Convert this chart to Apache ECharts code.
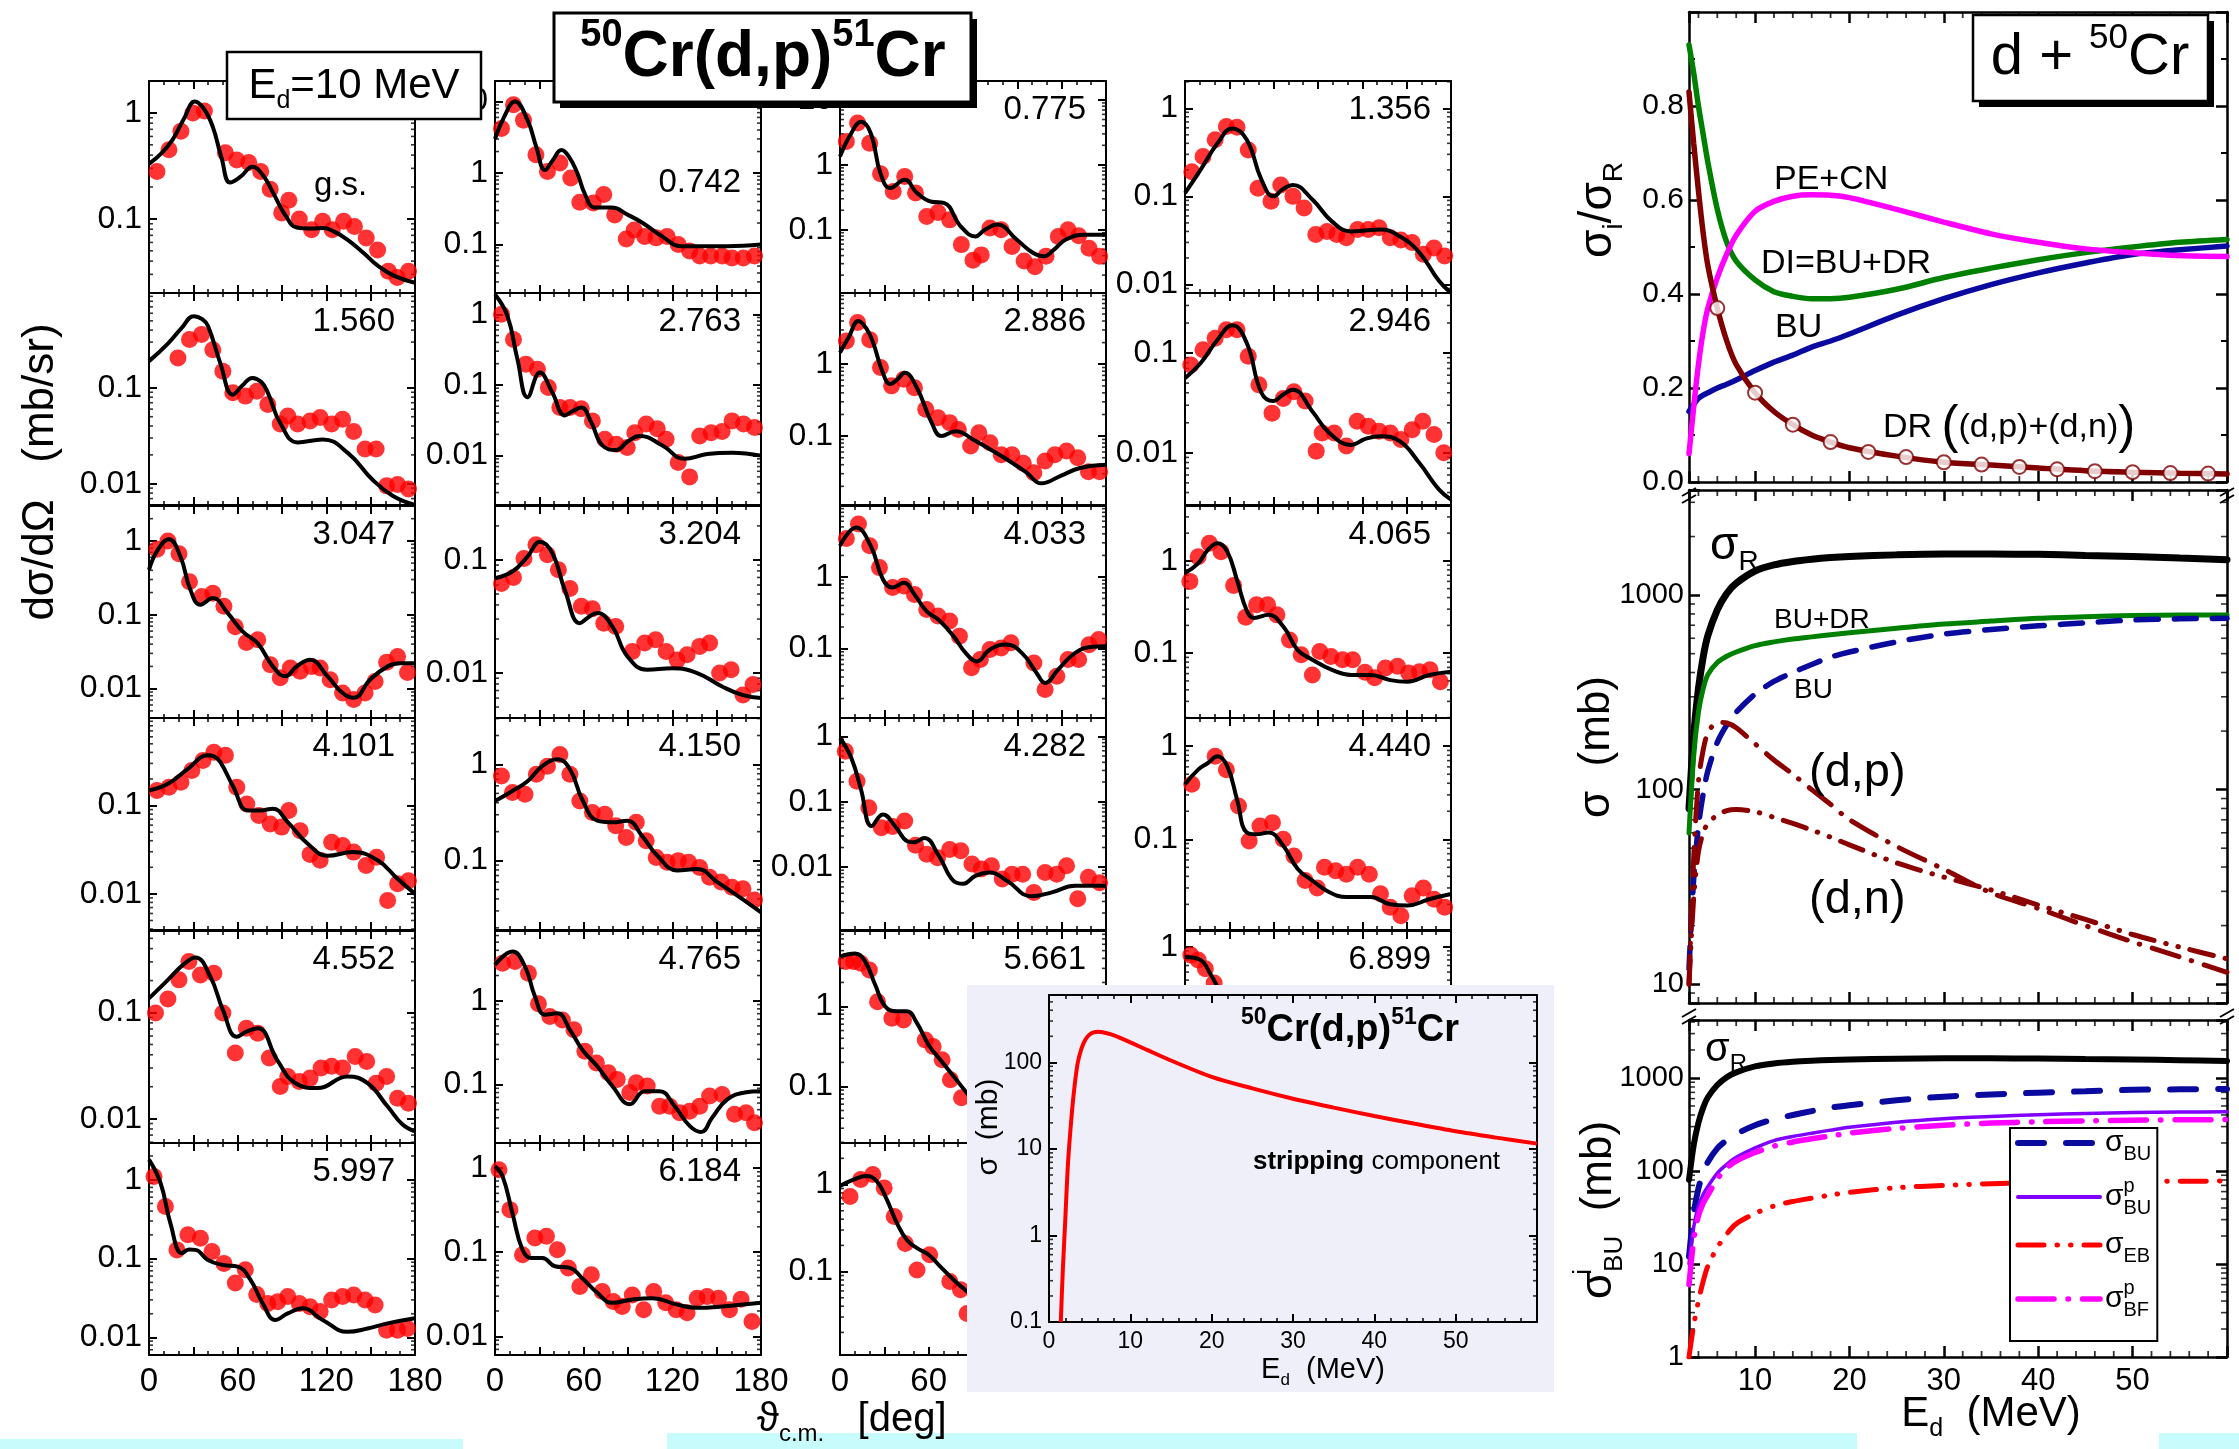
<!DOCTYPE html>
<html>
<head>
<meta charset="utf-8">
<title>50Cr(d,p)51Cr</title>
<script src="https://cdn.jsdelivr.net/npm/echarts@6.0.0/dist/echarts.min.js"></script>
<style>
html, body { margin: 0; padding: 0; background: #fff; }
#main { width: 2239px; height: 1449px; }
</style>
</head>
<body>
<div id="main"></div>
<script>
// angular distributions at Ed = 10 MeV, [theta_cm (deg), dsigma/dOmega (mb/sr)]
var pts_gs = [[5.4,0.28],[13.5,0.45],[21.6,0.67],[29.7,1.0],[37.5,1.04],[51.7,0.42],[59.4,0.36],[67.5,0.34],[75.6,0.28],[82,0.19],[89.8,0.114],[94.6,0.15],[101.7,0.10],[110,0.079],[117.5,0.095],[124,0.079],[131.7,0.095],[139,0.085],[147,0.066],[154.7,0.051],[162,0.032],[168,0.028],[175.6,0.032]];
var fit_gs = [[0,0.33],[8,0.41],[16,0.56],[24,0.9],[31,1.28],[37,1.1],[43,0.75],[49,0.38],[55,0.22],[62,0.25],[70,0.31],[77,0.26],[84,0.176],[92,0.11],[100,0.083],[110,0.081],[118,0.082],[126,0.075],[134,0.064],[145,0.048],[155,0.036],[166,0.029],[180,0.025]];
var pts_742 = [[4.4,4.2],[12.5,9.0],[19.3,5.5],[27.7,1.8],[35.5,1.05],[43.9,1.38],[51.3,0.85],[57.4,0.39],[66.5,0.38],[73.6,0.5],[81,0.26],[88.8,0.12],[94.2,0.16],[101.3,0.13],[109,0.124],[116.5,0.13],[124,0.1],[131.7,0.081],[138.5,0.069],[146,0.069],[153.7,0.069],[160.4,0.065],[168,0.065],[175.6,0.069]];
var fit_742 = [[0,3.0],[6,6],[13.5,10],[22,5.5],[28,2.3],[33.8,1.1],[39,1.5],[45,2.1],[50,1.7],[55.7,1.0],[61,0.5],[67.5,0.33],[79,0.33],[90,0.26],[100,0.2],[113,0.13],[126,0.095],[140,0.095],[157,0.095],[180,0.1]];
var pts_775 = [[4.3,2.3],[11.9,4.4],[20.1,2.15],[27.4,0.73],[36,0.39],[43.8,0.66],[51.1,0.37],[58.7,0.16],[66.3,0.185],[74.2,0.142],[82.1,0.059],[90,0.034],[95.6,0.041],[101.5,0.106],[109.1,0.1],[116.4,0.055],[124.6,0.033],[131.9,0.027],[139.4,0.039],[147.7,0.079],[154.3,0.1],[161.5,0.081],[168.5,0.052],[175.7,0.039]];
var fit_775 = [[0,1.34],[7.6,3.07],[14.2,4.6],[20.8,3.07],[27.4,0.74],[34,0.44],[43.8,0.59],[52,0.37],[62,0.27],[70.2,0.26],[81.8,0.112],[91.6,0.079],[98,0.1],[106.5,0.12],[119.7,0.07],[130,0.045],[137.8,0.039],[145,0.05],[152.6,0.07],[165.8,0.084],[180,0.084]];
var pts_1356 = [[4.6,0.19],[12.2,0.284],[20.4,0.44],[28,0.62],[35.2,0.61],[42.8,0.337],[49.4,0.124],[58.2,0.088],[64.8,0.135],[73.1,0.1],[80.6,0.074],[88.5,0.037],[96.1,0.04],[102.7,0.037],[109.2,0.034],[116.8,0.042],[124,0.042],[131.3,0.044],[138.9,0.034],[146.1,0.032],[153.7,0.03],[161.3,0.022],[168.5,0.026],[175.7,0.021]];
var fit_1356 = [[0,0.109],[10.5,0.2],[22,0.4],[32,0.59],[41.8,0.44],[51.7,0.155],[59.9,0.1],[66,0.12],[73,0.135],[86.2,0.092],[99.4,0.052],[112.5,0.04],[122,0.041],[132.3,0.042],[145.5,0.035],[158.6,0.023],[171.8,0.011],[180,0.008]];
var pts_1560 = [[19.6,0.205],[27.4,0.32],[35.5,0.36],[43.2,0.25],[50,0.149],[56.7,0.089],[65.2,0.082],[73,0.092],[80.4,0.067],[88.8,0.042],[93.9,0.051],[100.6,0.042],[109,0.045],[115.8,0.049],[123.6,0.042],[131,0.047],[138.5,0.035],[146.2,0.023],[153.7,0.023],[160.8,0.0095],[168.2,0.0098],[175.6,0.0088]];
var fit_1560 = [[0,0.19],[12.8,0.29],[22,0.42],[30.4,0.56],[36,0.52],[40,0.44],[48.3,0.18],[56.7,0.085],[63,0.105],[70,0.127],[76,0.115],[80.4,0.089],[88.8,0.043],[100.6,0.027],[117.5,0.029],[134.5,0.021],[151.3,0.011],[164.8,0.0075],[180,0.006]];
var pts_2763 = [[4.4,1.0],[12.5,0.44],[20.9,0.197],[28.7,0.167],[36.1,0.092],[43.9,0.048],[50.7,0.048],[58.4,0.046],[65.9,0.031],[74.3,0.017],[82.1,0.0145],[89.5,0.013],[94.6,0.021],[102.3,0.028],[109.8,0.024],[115.8,0.017],[124,0.008],[131.7,0.005],[138.5,0.019],[146.2,0.021],[153.7,0.022],[160.4,0.031],[168.2,0.028],[175.6,0.025]];
var fit_2763 = [[0,1.9],[8.4,0.95],[15.2,0.23],[22,0.067],[30.4,0.15],[38.8,0.078],[47.3,0.037],[52,0.042],[58.4,0.048],[65,0.03],[72.6,0.014],[82,0.012],[90,0.016],[98,0.019],[113,0.014],[128.3,0.009],[143.5,0.0105],[160.4,0.011],[180,0.01]];
var pts_2886 = [[4.3,2.1],[11.9,3.8],[20.1,2.2],[27.4,0.9],[34.9,0.5],[43.2,0.62],[50.4,0.47],[58,0.236],[66.3,0.18],[74.2,0.154],[80.1,0.124],[88.4,0.073],[94,0.111],[101.5,0.081],[109.1,0.055],[116.4,0.055],[124,0.042],[131.2,0.031],[138.8,0.045],[145.4,0.055],[153.3,0.062],[160.9,0.05],[168.1,0.032],[175.7,0.032]];
var fit_2886 = [[0,1.45],[6,2.4],[12.5,4.0],[18,3.1],[22.4,2.0],[29,0.76],[34,0.53],[39,0.62],[43.8,0.76],[52,0.47],[62,0.154],[68.6,0.1],[78.5,0.117],[90,0.09],[109.8,0.052],[126.3,0.031],[136.2,0.022],[149.3,0.028],[162.5,0.036],[180,0.04]];
var pts_2946 = [[3.9,0.076],[12.2,0.108],[20.4,0.141],[28,0.171],[35.2,0.171],[42.8,0.093],[50,0.048],[58.9,0.025],[66.5,0.035],[73.7,0.041],[81.3,0.033],[88.8,0.0104],[92.8,0.0158],[101,0.0158],[109.2,0.0117],[116.5,0.0207],[124,0.0185],[131.3,0.0165],[138.9,0.0158],[146.1,0.0136],[153.7,0.017],[160.9,0.0207],[168.5,0.0153],[175.1,0.01]];
var fit_2946 = [[0,0.056],[10.5,0.079],[22,0.136],[32,0.19],[41.8,0.126],[51.7,0.04],[59.9,0.033],[66,0.038],[73,0.043],[86.2,0.026],[97.7,0.0158],[112.5,0.012],[122,0.0138],[132.3,0.0147],[145.5,0.013],[158.6,0.0079],[171.8,0.0043],[180,0.0034]];
var pts_3047 = [[5.4,0.77],[12.8,1.0],[20.3,0.67],[27.4,0.28],[35.8,0.177],[43.2,0.196],[50.7,0.13],[58.4,0.069],[65.9,0.042],[73.6,0.046],[82.1,0.021],[88.8,0.014],[95.6,0.019],[102.3,0.0172],[110,0.02],[115.8,0.019],[122.6,0.0132],[131,0.0087],[138.5,0.0071],[146.2,0.0087],[153,0.0125],[160.8,0.0227],[168.2,0.0273],[174.9,0.0165]];
var fit_3047 = [[0,0.406],[6,0.76],[13.5,1.05],[21.3,0.61],[28,0.218],[34.8,0.137],[43.2,0.168],[53.3,0.105],[63.5,0.059],[73.6,0.041],[83.8,0.02],[92.2,0.0147],[100,0.02],[109,0.0246],[120.9,0.0146],[131,0.0087],[138.5,0.0075],[149.6,0.0132],[161.5,0.02],[170,0.022],[180,0.022]];
var pts_3204 = [[4.4,0.062],[12.5,0.07],[19.6,0.103],[27.7,0.136],[35.5,0.111],[42.9,0.082],[50.7,0.056],[58.4,0.039],[65.9,0.037],[73.6,0.0276],[81.7,0.0258],[92.9,0.0155],[101.3,0.0184],[108.7,0.0197],[115.8,0.0155],[123.3,0.013],[130,0.0145],[138.5,0.0172],[145.2,0.0184],[152,0.01],[159.8,0.0107],[167.8,0.0064],[174.6,0.0079]];
var fit_3204 = [[0,0.069],[11.8,0.079],[22,0.107],[30.4,0.145],[38.8,0.115],[47.3,0.054],[57.4,0.0276],[63,0.031],[69.2,0.034],[79.4,0.0258],[89.5,0.0141],[103,0.0107],[119.9,0.011],[136.8,0.01],[153.7,0.0076],[167.2,0.0064],[180,0.006]];
var pts_4033 = [[4.3,3.45],[12.5,5.5],[20.1,2.72],[26.7,1.35],[35.6,0.71],[43.2,0.75],[50.4,0.57],[58.7,0.35],[66.3,0.284],[74.2,0.242],[80.8,0.149],[89,0.054],[95,0.07],[101.5,0.097],[109.1,0.102],[115.7,0.12],[131.2,0.063],[138.8,0.0267],[146.7,0.041],[154.3,0.07],[161.5,0.07],[168.5,0.113],[175,0.134]];
var fit_4033 = [[0,2.72],[10.9,4.9],[20.8,2.72],[29,0.93],[35.6,0.71],[43.2,0.83],[50.4,0.57],[58.7,0.33],[66.9,0.25],[76.8,0.149],[85,0.087],[92.6,0.066],[101.5,0.097],[112.4,0.114],[123,0.087],[132.9,0.046],[138.8,0.033],[147.7,0.051],[159.2,0.087],[170.7,0.106],[180,0.108]];
var pts_4065 = [[3.3,0.6],[8.9,1.11],[16.5,1.55],[24.4,1.26],[32.9,0.54],[41.1,0.245],[48.4,0.334],[55.9,0.334],[62.2,0.26],[70.7,0.139],[78.6,0.096],[86.2,0.058],[91.2,0.104],[98.7,0.092],[106.6,0.085],[113.5,0.085],[121.8,0.062],[128.3,0.054],[135.6,0.069],[143.8,0.072],[151.4,0.061],[158.6,0.063],[165.8,0.066],[172.8,0.049]];
var fit_4065 = [[0,0.74],[8.9,0.94],[15.5,1.32],[22,1.55],[28.6,1.26],[35.2,0.62],[41.8,0.29],[46.7,0.24],[56.6,0.26],[66.5,0.194],[76.3,0.108],[86.2,0.085],[99.4,0.066],[112.5,0.058],[125.7,0.058],[138.9,0.051],[150.4,0.049],[165.2,0.058],[180,0.063]];
var pts_4101 = [[5.4,0.148],[13.5,0.161],[21.6,0.184],[29,0.249],[36.5,0.323],[43.9,0.4],[51.7,0.37],[59.4,0.161],[66.2,0.104],[74.3,0.077],[82,0.062],[89.8,0.057],[94.6,0.088],[102.3,0.052],[109,0.028],[115.8,0.024],[123.6,0.0385],[131,0.0353],[138.5,0.0297],[146.9,0.021],[154,0.026],[161.5,0.0084],[168.2,0.013],[175.6,0.0141]];
var fit_4101 = [[0,0.148],[12.8,0.176],[26.3,0.26],[39.8,0.37],[44,0.36],[48.3,0.31],[56.7,0.168],[66.9,0.088],[75.3,0.088],[83.8,0.092],[93.9,0.065],[107.4,0.037],[120.9,0.027],[137.8,0.0297],[154.7,0.024],[168.2,0.0148],[180,0.01]];
var pts_4150 = [[4.4,0.757],[11.8,0.51],[20.3,0.49],[28,0.79],[35.5,0.96],[43.9,1.27],[50.7,0.79],[57.4,0.417],[65.9,0.316],[74.3,0.304],[81.7,0.23],[88.8,0.174],[95.6,0.25],[102.3,0.161],[109.1,0.108],[116.5,0.096],[124,0.1],[131,0.096],[138.5,0.085],[145.2,0.067],[153,0.06],[160.4,0.053],[167.8,0.051],[175.6,0.039]];
var fit_4150 = [[0,0.417],[11.8,0.53],[22,0.67],[32,0.96],[42.2,1.13],[50.7,0.89],[59.1,0.43],[69.2,0.26],[79.4,0.25],[89.5,0.26],[99.6,0.18],[109.8,0.113],[123.3,0.079],[136.8,0.082],[150.3,0.06],[167.2,0.04],[180,0.029]];
var pts_4282 = [[3.6,0.59],[11.5,0.206],[19.5,0.081],[28,0.04],[35.6,0.042],[43.8,0.051],[51.1,0.0216],[58.7,0.0158],[66,0.014],[74.2,0.0187],[81.8,0.0178],[89.3,0.0112],[95.6,0.0094],[102.5,0.0105],[109.8,0.0066],[116.4,0.0078],[123.6,0.0078],[131.2,0.0041],[138.8,0.0083],[146.7,0.0078],[153.3,0.0105],[160.9,0.0033],[168.1,0.007],[175.7,0.0058]];
var fit_4282 = [[0,0.94],[7.6,0.47],[14.2,0.154],[21.4,0.0425],[29,0.064],[37.3,0.0425],[45.5,0.025],[50,0.024],[57,0.028],[66.9,0.0149],[76.8,0.0062],[83.4,0.0056],[91.6,0.0074],[101.5,0.0083],[113,0.0062],[129.6,0.0036],[142.8,0.0041],[159.2,0.0052],[180,0.0052]];
var pts_4440 = [[4.6,0.39],[20.4,0.78],[28,0.56],[36.2,0.228],[43.4,0.096],[50.7,0.139],[59.2,0.151],[66.5,0.1],[73.7,0.066],[81.3,0.036],[89.5,0.03],[94.4,0.05],[102,0.046],[109.2,0.042],[116.8,0.05],[124.7,0.042],[132.3,0.026],[138.9,0.0186],[146.1,0.0151],[153.7,0.0248],[161.3,0.03],[168.5,0.0227],[175.7,0.0186]];
var fit_4440 = [[0,0.39],[8.9,0.56],[15.5,0.66],[22,0.78],[28.6,0.61],[35.2,0.268],[41.8,0.118],[48.4,0.113],[56.6,0.118],[66.5,0.085],[76.3,0.048],[86.2,0.036],[97.7,0.027],[109.2,0.024],[125.7,0.024],[138.9,0.02],[150.4,0.0194],[165.2,0.0227],[180,0.0258]];
var pts_4552 = [[4.4,0.099],[12.8,0.134],[20.3,0.203],[27,0.302],[34.8,0.226],[43.9,0.234],[50,0.099],[58.4,0.0415],[65.9,0.0712],[73.6,0.0639],[81.4,0.0372],[88.8,0.0201],[93.9,0.025],[101.7,0.0224],[109,0.0241],[116.5,0.03],[123.6,0.0311],[131,0.03],[139.5,0.0386],[147.3,0.0346],[153.7,0.0216],[160.8,0.025],[168.2,0.0156],[175.6,0.014]];
var fit_4552 = [[0,0.136],[12.8,0.203],[23,0.281],[31.4,0.33],[41.5,0.218],[50,0.106],[59.4,0.059],[66,0.066],[73.6,0.071],[87.1,0.035],[98.9,0.0217],[114.1,0.0194],[134.4,0.025],[147.9,0.0216],[161.5,0.013],[171.6,0.0088],[180,0.0076]];
var pts_4765 = [[5.1,2.8],[13.5,2.94],[22.6,2.13],[29.4,0.92],[37.1,0.65],[45.6,0.59],[53.4,0.45],[60.8,0.25],[68.6,0.181],[76.7,0.138],[82.7,0.115],[91.2,0.08],[95.6,0.105],[103,0.096],[111.4,0.055],[118.2,0.055],[125,0.046],[131.7,0.048],[138.5,0.055],[145.2,0.073],[153.7,0.076],[162.1,0.044],[169.9,0.046],[175.6,0.035]];
var fit_4765 = [[0,2.68],[11.8,3.86],[20.3,2.56],[27,1.13],[33.8,0.68],[42.2,0.71],[50.7,0.45],[59.1,0.26],[69.2,0.165],[79.4,0.096],[91.2,0.058],[101.3,0.083],[111.4,0.083],[121.6,0.055],[131.7,0.032],[139.5,0.027],[146.9,0.04],[157,0.066],[168.9,0.08],[180,0.083]];
var pts_5661 = [[4.1,3.65],[9.1,3.65],[14,3.48],[19.9,2.87],[25.4,1.15],[35.1,0.715],[43,0.68],[57.7,0.38],[63,0.316],[69.1,0.215],[74.7,0.121],[82.2,0.072]];
var fit_5661 = [[0,4.2],[10.2,4.6],[17,3.65],[23.8,1.87],[30.6,1.0],[38.5,0.87],[45.3,0.87],[52.1,0.62],[60,0.33],[67.9,0.215],[77,0.133],[86,0.082],[92,0.06]];
var pts_6899 = [[3.9,0.8],[8.9,0.7],[13.8,0.55],[19.7,0.37]];
var fit_6899 = [[0,0.76],[10.5,0.7],[17,0.48],[22,0.33],[28,0.2]];
var pts_5997 = [[3.4,1.1],[11.1,0.458],[18.9,0.129],[26.3,0.2],[34.8,0.181],[42.6,0.123],[50.7,0.087],[58.4,0.049],[65.2,0.072],[72.9,0.035],[80.4,0.027],[87.1,0.0284],[93.9,0.033],[101.7,0.027],[109,0.0246],[115.8,0.0213],[123.6,0.0298],[131,0.033],[138.5,0.0346],[146.2,0.0298],[153,0.0258],[160.8,0.0124],[168.2,0.0124],[174.9,0.013]];
var fit_5997 = [[0,1.8],[7.8,0.91],[14.5,0.28],[22.3,0.117],[27,0.13],[31.4,0.129],[39.8,0.096],[50,0.083],[60.1,0.079],[68.6,0.054],[77,0.027],[85.5,0.0167],[93.9,0.0202],[104,0.0234],[117.5,0.0167],[134.4,0.0118],[147.9,0.013],[161.5,0.0151],[180,0.0175]];
var pts_6184 = [[2.7,0.955],[10.1,0.32],[18.6,0.093],[27,0.147],[34.8,0.154],[42.2,0.107],[49.6,0.065],[57.4,0.039],[65.2,0.054],[72.6,0.034],[80,0.026],[86.1,0.0226],[92.9,0.031],[100.6,0.0207],[107.4,0.034],[115.5,0.025],[122.6,0.0207],[130,0.019],[136.8,0.0284],[143.5,0.0298],[151.3,0.0284],[158.7,0.0207],[166.5,0.0275],[173.9,0.015]];
var fit_6184 = [[0,1.05],[5.1,0.8],[11.8,0.29],[18.6,0.107],[24.7,0.085],[32.1,0.085],[40.5,0.068],[50.7,0.065],[59.1,0.049],[69.2,0.033],[79.4,0.025],[92.9,0.0274],[106.4,0.0284],[123.3,0.0238],[136.8,0.0218],[153.7,0.0226],[180,0.025]];
var pts_hidden = [[6.8,0.73],[14,1.14],[22.2,1.3],[29.9,0.915],[36.7,0.43],[44.2,0.21],[52.1,0.104],[60.7,0.156],[74.3,0.077],[81.5,0.062],[86,0.033]];
var fit_hidden = [[0,0.96],[9.1,1.14],[18.1,1.25],[24.9,1.09],[31.7,0.67],[38.5,0.36],[45.3,0.23],[52.1,0.186],[60,0.156],[67.9,0.114],[77,0.08],[86,0.059],[92,0.05]];

// panels in reading order (4 per row)
var levels = ['g.s.','0.742','0.775','1.356','1.560','2.763','2.886','2.946','3.047','3.204','4.033','4.065','4.101','4.150','4.282','4.440','4.552','4.765','5.661','6.899','5.997','6.184',''];
var panelPts = [pts_gs,pts_742,pts_775,pts_1356,pts_1560,pts_2763,pts_2886,pts_2946,pts_3047,pts_3204,pts_4033,pts_4065,pts_4101,pts_4150,pts_4282,pts_4440,pts_4552,pts_4765,pts_5661,pts_6899,pts_5997,pts_6184,pts_hidden];
var panelFit = [fit_gs,fit_742,fit_775,fit_1356,fit_1560,fit_2763,fit_2886,fit_2946,fit_3047,fit_3204,fit_4033,fit_4065,fit_4101,fit_4150,fit_4282,fit_4440,fit_4552,fit_4765,fit_5661,fit_6899,fit_5997,fit_6184,fit_hidden];
var yLow  = [0.02,0.021,0.0106,0.008, 0.006,0.002,0.011,0.003, 0.004,0.004,0.0107,0.0198, 0.0039,0.019,0.0011,0.0106, 0.0059,0.02,0.0196,0.0044, 0.006,0.006,0.011];
var yHigh = [2.0,19.4,19.6,2.04, 0.976,2.0,9.8,0.4, 2.97,0.3,9.8,3.94, 0.98,3.04,1.9,2.01, 0.586,6.8,8.8,1.56, 2.92,1.98,3.0];

// energy dependence d + 50Cr
var eGrid   = [3,3.5,4,4.5,5,6,7,8,10,12,14,16,18,20,25,30,35,40,45,50,55,60];
var ratioDI = [0.93,0.87,0.80,0.74,0.68,0.58,0.51,0.47,0.43,0.405,0.395,0.39,0.39,0.393,0.41,0.435,0.455,0.473,0.488,0.50,0.51,0.516];
var ratioPE = [0.06,0.16,0.25,0.32,0.37,0.435,0.485,0.525,0.576,0.597,0.608,0.611,0.61,0.605,0.58,0.553,0.528,0.51,0.496,0.488,0.482,0.48];
var ratioBU = [0.15,0.165,0.178,0.185,0.19,0.20,0.208,0.217,0.237,0.255,0.27,0.287,0.30,0.315,0.355,0.39,0.42,0.445,0.466,0.484,0.494,0.502];
var ratioDR = [0.83,0.72,0.62,0.53,0.46,0.37,0.30,0.25,0.19,0.15,0.122,0.10,0.085,0.073,0.055,0.042,0.036,0.030,0.024,0.021,0.0188,0.017];
var drMarkE = [6,10,14,18,22,26,30,34,38,42,46,50,54,58];
var drMarkV = [0.37,0.19,0.122,0.085,0.064,0.053,0.042,0.037,0.032,0.027,0.023,0.021,0.019,0.018];
var sigR   = [80,190,330,480,620,840,1020,1150,1330,1430,1490,1530,1560,1580,1610,1625,1625,1620,1600,1580,1550,1520];
var sigDI  = [60,150,250,330,390,450,485,510,550,575,595,610,625,640,675,710,735,760,775,785,790,790];
var sigBU  = [12,35,65,95,125,175,215,250,310,360,400,440,480,510,575,630,665,695,720,745,755,760];
var sigDP  = [10,45,110,160,195,222,220,208,172,142,120,100,84,70,51,39,29.5,24.5,20,16.5,13.8,11.5];
var sigDN  = [10,28,48,60,67,74,78,79,77,72,67,62,57,52,42,35.5,30.5,25.5,21.5,18,15.5,13.5];
var sigBUp = [10,25,42,56,68,95,118,140,177,212,235,255,275,295,335,365,385,402,415,425,430,432];
var sigEB  = [1.0,2.2,4,6.5,9.5,15,21,27,35,42,47,51,55,59,66,70,73,75,76,77,77.5,78];
var sigBFp = [6,18,33,45,55,82,108,128,158,185,205,222,238,255,287,310,327,338,346,352,355,357];
// inset: stripping component of 50Cr(d,p)51Cr
var eStrip = [1.45,1.7,2,2.3,2.6,3,3.5,4,4.5,5,5.5,6,7,8,10,12,15,20,25,30,35,40,45,50,55,60];
var sStrip = [0.1,0.4,1.5,6,15,40,95,145,185,210,222,225,218,205,170,140,105,68,50,38,30,24,19.5,16,13.5,11.5];

var FONT = "'Liberation Sans', Arial, Helvetica, 'DejaVu Sans', sans-serif";
var chart = echarts.init(document.getElementById('main'));
var grids = [], xAxes = [], yAxes = [], series = [], graphics = [];

function pairs(xs, ys) { return xs.map(function (x, i) { return [x, ys[i]]; }); }
function decadeLabel(v) {
    var l = Math.log(v) / Math.LN10, p = Math.round(l);
    if (Math.abs(l - p) > 1e-6) return '';
    return p >= 0 ? String(Math.round(Math.pow(10, p))) : Math.pow(10, p).toFixed(-p);
}
function logMinors(lo, hi) {
    var out = [];
    for (var k = -4; k <= 4; k++) for (var m = 2; m <= 9; m++) {
        var v = m * Math.pow(10, k);
        if (v > lo * 1.0001 && v < hi * 0.9999) out.push(v);
    }
    return out;
}
function addGrid(l, t, w, h) {
    grids.push({ left: l, top: t, width: w, height: h, show: false, containLabel: false, outerBoundsMode: 'none' });
    return grids.length - 1;
}
function frameAxis(gi, type, pos, z, lw, tl) {
    return {
        gridIndex: gi, type: type, position: pos, z: z,
        axisLine: { show: true, onZero: false, lineStyle: { color: '#000', width: lw } },
        axisTick: { show: true, inside: true, length: tl, lineStyle: { color: '#000', width: lw } },
        minorTick: { show: false },
        axisLabel: { show: false },
        splitLine: { show: false },
        minorSplitLine: { show: false }
    };
}
function labelStyle(size, margin, fmt) {
    return { show: true, color: '#000', fontFamily: FONT, fontSize: size, margin: margin, formatter: fmt };
}
function pushX(a) { xAxes.push(a); return xAxes.length - 1; }
function pushY(a) { yAxes.push(a); return yAxes.length - 1; }
// minor tick marks of log axes, placed through the axis scales
function yMinorTicks(xi, yi, xl, xr, lo, hi, len, z) {
    var data = [];
    logMinors(lo, hi).forEach(function (v) {
        data.push({ value: [xl, v], symbolOffset: [len / 2, 0] });
        data.push({ value: [xr, v], symbolOffset: [-len / 2, 0] });
    });
    return { type: 'scatter', xAxisIndex: xi, yAxisIndex: yi, data: data, symbol: 'rect', symbolSize: [len, 1.6],
        itemStyle: { color: '#000' }, silent: true, clip: false, z: z };
}
function xMinorTicks(xi, yi, vals, yb, yt, len, z) {
    var data = [];
    vals.forEach(function (v) {
        data.push({ value: [v, yb], symbolOffset: [0, -len / 2] });
        data.push({ value: [v, yt], symbolOffset: [0, len / 2] });
    });
    return { type: 'scatter', xAxisIndex: xi, yAxisIndex: yi, data: data, symbol: 'rect', symbolSize: [1.8, len],
        itemStyle: { color: '#000' }, silent: true, clip: false, z: z };
}
function richSet(size, bold) {
    var lh = Math.round(size * 1.3), s = Math.round(size * 0.6), w = bold ? 'bold' : 'normal';
    function st(fs, va, extra) {
        var o = { fontSize: fs, fontFamily: FONT, fontWeight: w, fill: '#000', color: '#000', lineHeight: lh, verticalAlign: va };
        for (var k in extra) o[k] = extra[k];
        return o;
    }
    return { n: st(size, 'middle'), big: st(Math.round(size * 1.5), 'middle'), sub: st(s, 'bottom'),
        sup: st(s, 'top'), sup0: st(s, 'top', { width: 0 }),
        b: { fontSize: size, fontFamily: FONT, fontWeight: 'bold', fill: '#000', lineHeight: lh, verticalAlign: 'middle' } };
}
function txt(x, y, text, size, opt) {
    opt = opt || {};
    var al = opt.align || 'left';
    return { type: 'text', x: x, y: y, z: opt.z || 10, rotation: opt.rot || 0, silent: true,
        style: { text: text, fill: '#000', fontFamily: FONT, fontSize: size, fontWeight: opt.bold ? 'bold' : 'normal',
            align: al, textAlign: al, verticalAlign: 'middle', textVerticalAlign: 'middle', rich: richSet(size, opt.bold) } };
}

// ---------------- small angular-distribution panels ----------------
var COLX = [149, 495, 840, 1185], ROWY = [81, 293, 506, 718, 931, 1143], PW = 266, PH = 212;
panelPts.forEach(function (pts, i) {
    var c = i % 4, r = Math.floor(i / 4);
    var gi = addGrid(COLX[c], ROWY[r], PW, PH);
    var xb = frameAxis(gi, 'value', 'bottom', 1, 2, 8);
    xb.min = 0; xb.max = 180; xb.interval = 30;
    xb.minorTick = { show: true, splitNumber: 3, length: 4, lineStyle: { color: '#000', width: 1.5 } };
    if (r === 5) xb.axisLabel = labelStyle(33, 10, function (v) { return v % 60 === 0 ? String(v) : ''; });
    var xt = frameAxis(gi, 'value', 'top', 1, 2, 8);
    xt.min = 0; xt.max = 180; xt.interval = 30;
    xt.minorTick = { show: true, splitNumber: 3, length: 4, lineStyle: { color: '#000', width: 1.5 } };
    var yl = frameAxis(gi, 'log', 'left', 1, 2, 8);
    yl.logBase = 10; yl.min = yLow[i]; yl.max = yHigh[i];
    yl.axisLabel = labelStyle(32, 7, decadeLabel);
    var yr = frameAxis(gi, 'log', 'right', 1, 2, 8);
    yr.logBase = 10; yr.min = yLow[i]; yr.max = yHigh[i];
    var xi = pushX(xb); pushX(xt);
    var yi = pushY(yl); pushY(yr);
    series.push(yMinorTicks(xi, yi, 0, 180, yLow[i], yHigh[i], 4, 1));
    series.push({ type: 'scatter', xAxisIndex: xi, yAxisIndex: yi, data: pts, symbol: 'circle', symbolSize: 17,
        itemStyle: { color: '#ff0000' }, silent: true, z: 2 });
    series.push({ type: 'line', xAxisIndex: xi, yAxisIndex: yi, data: panelFit[i], smooth: 0.45, symbol: 'none',
        showSymbol: false, lineStyle: { color: '#000', width: 4 }, silent: true, z: 3 });
    if (levels[i]) {
        var right = COLX[c] + PW - 20, ty = ROWY[r] + 29;
        if (levels[i] === 'g.s.') graphics.push(txt(314, 186, levels[i], 33));
        else if (levels[i] === '0.742') graphics.push(txt(741, 183, levels[i], 33, { align: 'right' }));
        else graphics.push(txt(right, ty, levels[i], 33, { align: 'right' }));
    }
});

// ---------------- right-hand energy panels ----------------
var RL = 1689, RW = 538;
var eMinor = [4,6,8,12,14,16,18,22,24,26,28,32,34,36,38,42,44,46,48,52,54,56,58];
function energyAxes(gi, labels) {
    var xb = frameAxis(gi, 'value', 'bottom', 1, 2.5, 11);
    xb.min = 3; xb.max = 60;
    if (labels) xb.axisLabel = labelStyle(31, 9, function (v) { return (v % 10 === 0 && v < 60) ? String(v) : ''; });
    var xt = frameAxis(gi, 'value', 'top', 1, 2.5, 11);
    xt.min = 3; xt.max = 60;
    var xi = pushX(xb); pushX(xt);
    return xi;
}
function lineS(xi, yi, xs, ys, color, width, type, name, z) {
    return { type: 'line', name: name || '', xAxisIndex: xi, yAxisIndex: yi, data: pairs(xs, ys), smooth: 0.3,
        symbol: 'none', showSymbol: false, silent: true, z: z || 3,
        lineStyle: { color: color, width: width, type: type || 'solid', cap: 'round' } };
}

// top: ratios sigma_i / sigma_R
var gT = addGrid(RL, 12, RW, 470);
var xT = energyAxes(gT, false);
var yTl = frameAxis(gT, 'value', 'left', 1, 2.5, 11);
yTl.min = 0; yTl.max = 1; yTl.interval = 0.2;
yTl.minorTick = { show: true, splitNumber: 2, length: 6, lineStyle: { color: '#000', width: 2 } };
yTl.axisLabel = labelStyle(30, 5, function (v) { return v > 0.9 ? '' : v.toFixed(1); });
var yTr = frameAxis(gT, 'value', 'right', 1, 2.5, 11);
yTr.min = 0; yTr.max = 1; yTr.interval = 0.2;
yTr.minorTick = { show: true, splitNumber: 2, length: 6, lineStyle: { color: '#000', width: 2 } };
var yT = pushY(yTl); pushY(yTr);
series.push(xMinorTicks(xT, yT, eMinor, 0, 1, 6, 1));
series.push(lineS(xT, yT, eGrid, ratioBU, '#0a0a9e', 5.5));
series.push(lineS(xT, yT, eGrid, ratioDI, '#008000', 5.5));
series.push(lineS(xT, yT, eGrid, ratioPE, '#ff00ff', 5.5));
series.push(lineS(xT, yT, eGrid, ratioDR, '#800000', 5.5));
series.push({ type: 'scatter', xAxisIndex: xT, yAxisIndex: yT, data: pairs(drMarkE, drMarkV), symbol: 'circle', symbolSize: 14,
    itemStyle: { color: '#fff', borderColor: '#800000', borderWidth: 2 }, silent: true, z: 4 });

// middle: cross sections (mb)
var gM = addGrid(RL, 490, RW, 513);
var xM = energyAxes(gM, false);
var yMl = frameAxis(gM, 'log', 'left', 1, 2.5, 11);
yMl.logBase = 10; yMl.min = 8; yMl.max = 3470;
yMl.axisLabel = labelStyle(29, 5, decadeLabel);
var yMr = frameAxis(gM, 'log', 'right', 1, 2.5, 11);
yMr.logBase = 10; yMr.min = 8; yMr.max = 3470;
var yM = pushY(yMl); pushY(yMr);
series.push(yMinorTicks(xM, yM, 3, 60, 8, 3470, 6, 1));
series.push(xMinorTicks(xM, yM, eMinor, 8, 3470, 6, 1));
series.push(lineS(xM, yM, eGrid, sigR, '#000', 7));
series.push(lineS(xM, yM, eGrid, sigDI, '#008000', 5));
series.push(lineS(xM, yM, eGrid, sigBU, '#0a0a9e', 5.5, [22, 16]));
series.push(lineS(xM, yM, eGrid, sigDP, '#8b0000', 5, [28, 13, 0.5, 13]));
series.push(lineS(xM, yM, eGrid, sigDN, '#8b0000', 5, [24, 12, 0.5, 12, 0.5, 12]));

// bottom: breakup components (mb)
var gB = addGrid(RL, 1020, RW, 337);
var xB = energyAxes(gB, true);
var yBl = frameAxis(gB, 'log', 'left', 1, 2.5, 11);
yBl.logBase = 10; yBl.min = 1; yBl.max = 4200;
yBl.axisLabel = labelStyle(29, 5, decadeLabel);
var yBr = frameAxis(gB, 'log', 'right', 1, 2.5, 11);
yBr.logBase = 10; yBr.min = 1; yBr.max = 4200;
var yB = pushY(yBl); pushY(yBr);
series.push(yMinorTicks(xB, yB, 3, 60, 1, 4200, 6, 1));
series.push(xMinorTicks(xB, yB, eMinor, 1, 4200, 6, 1));
series.push(lineS(xB, yB, eGrid, sigR, '#000', 6));
series.push(lineS(xB, yB, eGrid, sigBU, '#0a0a9e', 6, [26, 22], 'sBU'));
series.push(lineS(xB, yB, eGrid, sigBUp, '#8000ff', 3.5, 'solid', 'sBUp'));
series.push(lineS(xB, yB, eGrid, sigEB, '#ff0000', 5, [26, 13, 0.5, 13, 0.5, 13], 'sEB'));
series.push(lineS(xB, yB, eGrid, sigBFp, '#ff00ff', 5.5, [36, 14, 0.5, 14], 'sBFp'));

// ---------------- inset ----------------
var gI = addGrid(1049, 995, 488, 327);
var xIb = frameAxis(gI, 'value', 'bottom', 110, 2, 8);
xIb.min = 0; xIb.max = 60; xIb.interval = 10;
xIb.minorTick = { show: true, splitNumber: 5, length: 4, lineStyle: { color: '#000', width: 1.5 } };
xIb.axisLabel = labelStyle(23, 8, function (v) { return v < 60 ? String(v) : ''; });
var xIt = frameAxis(gI, 'value', 'top', 110, 2, 8);
xIt.min = 0; xIt.max = 60; xIt.interval = 10;
xIt.minorTick = { show: true, splitNumber: 5, length: 4, lineStyle: { color: '#000', width: 1.5 } };
var yIl = frameAxis(gI, 'log', 'left', 110, 2, 8);
yIl.logBase = 10; yIl.min = 0.1; yIl.max = 600;
yIl.axisLabel = labelStyle(23, 7, decadeLabel);
var yIr = frameAxis(gI, 'log', 'right', 110, 2, 8);
yIr.logBase = 10; yIr.min = 0.1; yIr.max = 600;
var xI = pushX(xIb); pushX(xIt);
var yI = pushY(yIl); pushY(yIr);
series.push(yMinorTicks(xI, yI, 0, 60, 0.1, 600, 4, 110));
series.push({ type: 'line', xAxisIndex: xI, yAxisIndex: yI, data: pairs(eStrip, sStrip), smooth: 0.3, symbol: 'none',
    showSymbol: false, silent: true, z: 111, lineStyle: { color: '#ff0000', width: 4 } });

// ---------------- decorations and texts ----------------
var CYAN = '#c8fbfb';
graphics.push(
    { type: 'rect', z: 100, silent: true, shape: { x: 0, y: 1439, width: 463, height: 10 }, style: { fill: CYAN } },
    { type: 'rect', z: 100, silent: true, shape: { x: 667, y: 1433, width: 1190, height: 16 }, style: { fill: CYAN } },
    { type: 'rect', z: 100, silent: true, shape: { x: 2159, y: 1433, width: 80, height: 16 }, style: { fill: CYAN } },
    // inset background
    { type: 'rect', z: 100, silent: true, shape: { x: 967, y: 985, width: 587, height: 407 }, style: { fill: '#efeff9' } },
    // Ed box
    { type: 'rect', z: 100, silent: true, shape: { x: 227, y: 52, width: 254, height: 67 }, style: { fill: '#fff', stroke: '#000', lineWidth: 2.5 } },
    // title box with shadow
    { type: 'rect', z: 100, silent: true, shape: { x: 560, y: 19, width: 417, height: 89 }, style: { fill: '#000' } },
    { type: 'rect', z: 101, silent: true, shape: { x: 554, y: 13, width: 417, height: 89 }, style: { fill: '#fff', stroke: '#000', lineWidth: 3 } },
    // d + 50Cr box with shadow
    { type: 'rect', z: 100, silent: true, shape: { x: 1979, y: 21, width: 235, height: 86 }, style: { fill: '#000' } },
    { type: 'rect', z: 101, silent: true, shape: { x: 1973, y: 15, width: 235, height: 86 }, style: { fill: '#fff', stroke: '#000', lineWidth: 2.5 } }
);
// axis break marks
[[RL, 492], [RL + RW, 492], [RL, 1013], [RL + RW, 1013]].forEach(function (p) {
    graphics.push({ type: 'line', z: 20, silent: true, shape: { x1: p[0] - 7, y1: p[1] + 4, x2: p[0] + 7, y2: p[1] - 4 }, style: { stroke: '#000', lineWidth: 2 } });
    graphics.push({ type: 'line', z: 20, silent: true, shape: { x1: p[0] - 7, y1: p[1] + 11, x2: p[0] + 7, y2: p[1] + 3 }, style: { stroke: '#000', lineWidth: 2 } });
});
graphics.push(
    txt(354, 86, '{n|E}{sub|d}{n|=10 MeV}', 42, { align: 'center', z: 102 }),
    txt(763, 58, '{sup|50}{n|Cr(d,p)}{sup|51}{n|Cr}', 64, { align: 'center', bold: true, z: 102 }),
    txt(2090, 58, '{n|d + }{sup|50}{n|Cr}', 58, { align: 'center', z: 102 }),
    txt(41, 472, '{n|dσ/dΩ   (mb/sr)}', 44, { align: 'center', rot: Math.PI / 2 }),
    txt(757, 1420, '{n|ϑ}{sub|c.m.}{n|   [deg]}', 40, { z: 102 }),
    txt(1774, 180, 'PE+CN', 34),
    txt(1761, 264, 'DI=BU+DR', 34),
    txt(1775, 328, 'BU', 34),
    txt(1883, 428, '{n|DR }{big|(}{n|(d,p)+(d,n)}{big|)}', 34),
    txt(1598, 210, '{n|σ}{sub|i}{n|/σ}{sub|R}', 46, { align: 'center', rot: Math.PI / 2 }),
    txt(1597, 747, '{n|σ  (mb)}', 44, { align: 'center', rot: Math.PI / 2 }),
    txt(1599, 1210, '{n|σ}{sup0|i}{sub|BU}{n|  (mb)}', 44, { align: 'center', rot: Math.PI / 2 }),
    txt(1710, 546, '{n|σ}{sub|R}', 46),
    txt(1705, 1050, '{n|σ}{sub|R}', 40),
    txt(1774, 620, 'BU+DR', 28),
    txt(1794, 690, 'BU', 28),
    txt(1809, 773, '(d,p)', 47),
    txt(1809, 900, '(d,n)', 47),
    txt(1991, 1414, '{n|E}{sub|d}{n|  (MeV)}', 42, { align: 'center', z: 102 }),
    txt(1350, 1031, '{sup|50}{n|Cr(d,p)}{sup|51}{n|Cr}', 38, { align: 'center', bold: true, z: 120 }),
    txt(1253, 1162, '{b|stripping}{n| component}', 26, { z: 120 }),
    txt(1323, 1370, '{n|E}{sub|d}{n|  (MeV)}', 29, { align: 'center', z: 120 }),
    txt(989, 1127, '{n|σ  (mb)}', 30, { align: 'center', rot: Math.PI / 2, z: 120 })
);

var legendText = {
    sBU: '{s|σ}{b|BU}',
    sBUp: '{s|σ}{p|p}{b|BU}',
    sEB: '{s|σ}{b|EB}',
    sBFp: '{s|σ}{p|p}{b|BF}'
};
var hideSym = { opacity: 0, borderWidth: 0 };

chart.setOption({
    animation: false,
    backgroundColor: '#fff',
    textStyle: { fontFamily: FONT, color: '#000' },
    grid: grids,
    xAxis: xAxes,
    yAxis: yAxes,
    legend: {
        data: [
            { name: 'sBU', itemStyle: hideSym, lineStyle: { width: 6 } },
            { name: 'sBUp', itemStyle: hideSym, lineStyle: { width: 4 } },
            { name: 'sEB', itemStyle: hideSym, lineStyle: { width: 5 } },
            { name: 'sBFp', itemStyle: hideSym, lineStyle: { width: 5.5 } }
        ],
        orient: 'vertical', left: 2010, top: 1128,
        itemWidth: 82, itemHeight: 12, itemGap: 12,
        padding: [0, 6, 21, 5],
        borderColor: '#000', borderWidth: 2, backgroundColor: '#fff',
        itemStyle: hideSym,
        selectedMode: false, z: 20,
        formatter: function (n) { return legendText[n]; },
        textStyle: {
            color: '#000', fontFamily: FONT,
            rich: {
                s: { fontSize: 30, fontFamily: FONT, color: '#000', lineHeight: 42, verticalAlign: 'middle' },
                b: { fontSize: 20, fontFamily: FONT, color: '#000', lineHeight: 42, verticalAlign: 'bottom' },
                p: { fontSize: 20, fontFamily: FONT, color: '#000', lineHeight: 42, verticalAlign: 'top', width: 0 }
            }
        }
    },
    graphic: { elements: graphics },
    series: series
});
</script>
</body>
</html>
